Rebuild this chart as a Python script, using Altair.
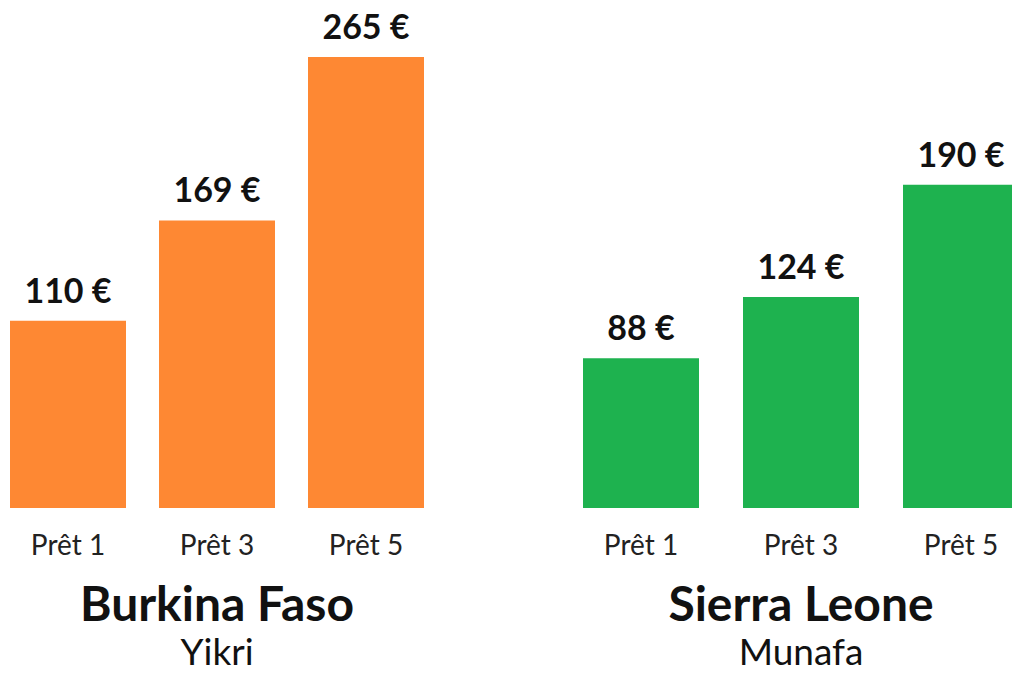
import altair as alt
import pandas as pd

countries = ["Burkina Faso", "Sierra Leone"]
partners = ["Yikri", "Munafa"]
loans = ["Prêt 1", "Prêt 3", "Prêt 5"]
bf_values = [110, 169, 265]
sl_values = [88, 124, 190]
colors = ["#FE8833", "#1EB24F"]

FONT = "Lato"


def panel(values, color, country, partner, width, pad_inner):
    df = pd.DataFrame({"loan": loans, "value": values})
    df["label"] = [f"{v} €" for v in values]
    xenc = alt.X(
        "loan:N",
        sort=loans,
        scale=alt.Scale(paddingInner=pad_inner, paddingOuter=0),
        axis=alt.Axis(
            title=None, labelAngle=0, ticks=False, domain=False, grid=False,
            labelFont=FONT, labelFontSize=28, labelColor="#222222",
            labelBaseline="alphabetic", labelPadding=46,
        ),
    )
    yenc = alt.Y("value:Q", scale=alt.Scale(domain=[0, 298.5], nice=False), axis=None)
    base = alt.Chart(df).encode(x=xenc, y=yenc)
    bars = base.mark_bar(color=color)
    text = base.mark_text(
        font=FONT, fontSize=34, fontWeight="bold", color="#111111",
        baseline="alphabetic", dy=-18,
    ).encode(text="label:N")
    return alt.layer(bars, text).properties(
        width=width, height=508,
        title=alt.TitleParams(
            text=country, subtitle=partner, orient="bottom", anchor="middle",
            font=FONT, fontSize=48, fontWeight="bold", color="#111111",
            subtitleFont=FONT, subtitleFontSize=37, subtitleFontWeight="normal",
            subtitleColor="#111111", offset=23, subtitlePadding=5,
        ),
    )


left = panel(bf_values, colors[0], countries[0], partners[0], 414, 0.2215)
right = panel(sl_values, colors[1], countries[1], partners[1], 436, 0.275)

chart = alt.hconcat(left, right, spacing=159).properties(
    padding={"left": 10, "top": 0, "right": -7, "bottom": 0},
    background="white",
).configure_view(strokeWidth=0, stroke=None)

chart.save("out.html", embed_options={"renderer": "svg", "actions": False})
